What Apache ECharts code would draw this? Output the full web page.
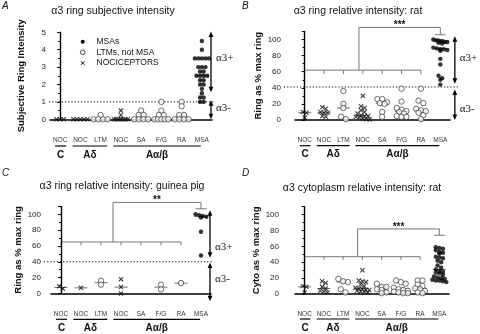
<!DOCTYPE html>
<html>
<head>
<meta charset="utf-8">
<script src="https://cdn.jsdelivr.net/npm/echarts@6/dist/echarts.min.js"></script>
<style>html,body{margin:0;background:#fff}#main{width:480px;height:334px}</style>
</head>
<body>
<div id="main"></div>
<script>
// categories along each x axis and what kind of afferent each one holds
var categories = ['NOC', 'NOC', 'LTM', 'NOC', 'SA', 'F/G', 'RA', 'MSA'];
var kinds = ['noc', 'noc', 'ltm', 'noc', 'ltm', 'ltm', 'ltm', 'msa'];
var seriesNames = { msa: 'MSAs', ltm: 'LTMs, not MSA', noc: 'NOCICEPTORS' };

// A: subjective ring intensity (one list per category)
var subjA = [
  [0, 0, 0],
  [0, 0, 0, 0, 0],
  [0.25, 0, 0, 0, 0],
  [0.5, 0.25, 0, 0, 0, 0, 0, 0, 0],
  [0.5, 0.25, 0.25, 0, 0, 0, 0],
  [1, 0.5, 0.25, 0.25, 0, 0, 0, 0, 0],
  [1, 0.75, 0.25, 0.25, 0, 0, 0, 0],
  [4.5, 4, 3.5, 3.5, 3.5, 3.5, 3.5, 3, 3, 3, 2.75, 2.75, 2.5, 2.5, 2.5, 2.5, 2.25, 2.25, 2, 2, 1.75, 1.5, 1.25, 1.25, 1, 1]
];
// B: ring relative intensity, rat
var ratB = [
  [10, 9, 3],
  [16, 14, 10, 9, 9, 5, 4],
  [36, 20, 15, 4, 1],
  [30, 17, 15, 12, 10, 8, 6, 5, 5, 4, 3, 2, 1, 1],
  [26, 26, 22, 21, 20, 10, 4],
  [39, 23, 15, 13, 11, 10, 8, 5, 4, 4],
  [39, 24, 21, 14, 12, 11, 9, 6, 1],
  [100, 99, 99, 98, 98, 97, 97, 96, 95, 90, 89, 88, 88, 87, 86, 76, 69, 55, 52, 50, 44]
];
// C: ring relative intensity, guinea pig
var gpC = [
  [9, 6],
  [7],
  [16, 11],
  [18, 8, 0],
  [],
  [11, 5],
  [13],
  [100, 99, 98, 97, 96, 78, 48]
];
// D: cytoplasm relative intensity, rat
var cytoD = [
  [10, 9, 2],
  [16, 14, 9, 7, 4, 3, 2],
  [19, 16, 15, 6, 2],
  [30, 17, 16, 15, 12, 10, 8, 7, 6, 5, 5, 4, 3, 3, 2],
  [13, 9, 9, 6, 5, 2, 1],
  [17, 15, 13, 8, 6, 5, 4, 3, 2, 1, 1],
  [17, 17, 12, 10, 7, 6, 4, 2, 1],
  [59, 58, 57, 55, 53, 52, 51, 47, 46, 45, 42, 40, 36, 33, 31, 29, 28, 27, 26, 24, 22, 21, 20, 19, 18, 17, 17, 16, 15]
];

var groups = [
  { name: 'C', from: -0.25, to: 0.3 },
  { name: 'Aδ', from: 0.62, to: 2.32 },
  { name: 'Aα/β', from: 2.62, to: 6.95 }
];

var FONT = '"Liberation Sans", Arial, sans-serif';
var xSym = 'path://M0,0L10,10M10,0L0,10';

var panels = [
  { letter: 'A', title: 'α3 ring subjective intensity', yName: 'Subjective Ring Intensity', data: subjA,
    max: 5, interval: 1, left: 50, top: 32.3, width: 162, height: 87, yOff: 1, xOff: 7, labelMargin: 10, nameGap: 23,
    tx: 113, ty: 13, lx: 2, ly: 1, gLine: 146, gText: 155,
    thr: 1, arrowX: 7.45, up: [5.05, 1.55], down: [1.1, 0], plusY: 3.5, minusY: 0.65 },
  { letter: 'B', title: 'α3 ring relative intensity: rat', yName: 'Ring as % max ring', data: ratB,
    max: 110, interval: 20, left: 295, top: 31.5, width: 155, height: 88.5, yOff: 11, xOff: 12.7, labelMargin: 4, nameGap: 21,
    tx: 358, ty: 13, lx: 242, ly: 1, gLine: 145.7, gText: 154,
    thr: 41, arrowX: 7.75, up: [104, 45], down: [38, 0], plusY: 77, minusY: 14,
    bracket: { low: 62, lowTick: 57, stem: 2.8, high: 115, cap: 106, stars: '***' } },
  { letter: 'C', title: 'α3 ring relative intensity: guinea pig', yName: 'Ring as % max ring', data: gpC,
    max: 110, interval: 20, left: 51, top: 206.4, width: 160, height: 87, yOff: 7, xOff: 6, labelMargin: 11, nameGap: 18,
    tx: 122, ty: 188, lx: 2, ly: 168, gLine: 319.3, gText: 328,
    thr: 40, arrowX: 7.45, up: [105, 45], down: [39, -10], plusY: 59, minusY: 18,
    bracket: { low: 65, lowTick: 61, stem: 2.6, high: 115, cap: 107, stars: '**' } },
  { letter: 'D', title: 'α3 cytoplasm relative intensity: rat', yName: 'Cyto as % max ring', data: cytoD,
    max: 110, interval: 20, left: 295, top: 206.7, width: 154, height: 87.3, yOff: 13, xOff: 12, labelMargin: 4.5, nameGap: 18,
    tx: 362, ty: 190, lx: 242, ly: 168, gLine: 319, gText: 328,
    bracket: { low: 47, lowTick: 43, stem: 2.75, high: 82, cap: 74, stars: '***' } }
];

var markStyle = {
  msa: { symbol: 'circle', symbolSize: 4.4, itemStyle: { color: '#000' }, gap: 3.6 },
  ltm: { symbol: 'circle', symbolSize: 5.4, itemStyle: { color: '#fff', borderColor: '#333', borderWidth: 0.9 }, gap: 4.8 },
  noc: { symbol: xSym, symbolSize: 4.2, itemStyle: { color: 'transparent', borderColor: '#111', borderWidth: 1.1 }, gap: 3.6 }
};

// spread equal-ish values sideways into centred rows, like a column scatter
function swarm(vals, cat, pxPerCat, pxPerUnit, gap) {
  var sorted = vals.slice().sort(function (a, b) { return b - a; });
  var out = [], row = [];
  function flush() {
    var g = row.length > 1 ? Math.min(gap, 14 / (row.length - 1)) : gap;
    row.forEach(function (v, k) {
      out.push([cat + (k - (row.length - 1) / 2) * g / pxPerCat, v]);
    });
    row = [];
  }
  sorted.forEach(function (v) {
    if (row.length && (row[0] - v) * pxPerUnit > gap * 0.75) flush();
    row.push(v);
  });
  flush();
  return out;
}

function median(vals) {
  var s = vals.slice().sort(function (a, b) { return a - b; });
  var m = Math.floor(s.length / 2);
  return s.length % 2 ? s[m] : (s[m - 1] + s[m]) / 2;
}

var grids = [], xAxes = [], yAxes = [], series = [], titles = [];

panels.forEach(function (p, i) {
  grids.push({ left: p.left, top: p.top, width: p.width, height: p.height });
  xAxes.push({
    type: 'category', gridIndex: i, data: categories, boundaryGap: true, offset: p.xOff,
    axisTick: { show: false },
    axisLine: { lineStyle: { color: '#000', width: 1.5 } },
    axisLabel: { fontSize: 6.5, color: '#333', fontFamily: FONT, margin: p.labelMargin, interval: 0 }
  });
  xAxes.push({ type: 'value', gridIndex: i, min: -0.5, max: 7.5, show: false });
  yAxes.push({
    type: 'value', gridIndex: i, min: 0, max: p.max, interval: p.interval, offset: p.yOff,
    name: p.yName, nameLocation: 'middle', nameGap: p.nameGap,
    nameTextStyle: { fontSize: 9.5, fontWeight: 'bold', color: '#111', fontFamily: FONT },
    axisLine: { show: true, lineStyle: { color: '#000', width: 1.4 } },
    axisTick: { show: true, length: 3, lineStyle: { color: '#000', width: 1 } },
    minorTick: { show: true, splitNumber: 2, length: 2, lineStyle: { color: '#000', width: 1 } },
    splitLine: { show: false },
    axisLabel: {
      fontSize: 8, color: '#222', fontFamily: FONT, margin: 3,
      formatter: function (v) { return v % p.interval === 0 ? String(v) : ''; }
    }
  });

  var pxPerCat = p.width / 8, pxPerUnit = p.height / p.max;
  ['msa', 'ltm', 'noc'].forEach(function (kind) {
    var pts = [];
    p.data.forEach(function (vals, c) {
      if (kinds[c] === kind && vals.length) pts = pts.concat(swarm(vals, c, pxPerCat, pxPerUnit, markStyle[kind].gap));
    });
    series.push({
      type: 'scatter', name: seriesNames[kind], xAxisIndex: i * 2 + 1, yAxisIndex: i, clip: false,
      symbol: markStyle[kind].symbol, symbolSize: markStyle[kind].symbolSize,
      itemStyle: markStyle[kind].itemStyle, data: pts, z: 3, silent: true
    });
  });
  var meds = [];
  p.data.forEach(function (vals, c) { if (vals.length) meds.push([c, median(vals)]); });
  series.push({
    type: 'scatter', name: 'median', xAxisIndex: i * 2 + 1, yAxisIndex: i, clip: false,
    symbol: 'rect', symbolSize: [13, 0.9], itemStyle: { color: '#333' }, data: meds, z: 2, silent: true
  });

  titles.push({ text: p.title, left: p.tx, top: p.ty - 7, textAlign: 'center', padding: 0,
    textStyle: { fontSize: 10.5, fontWeight: 'normal', color: '#111', fontFamily: FONT } });
  titles.push({ text: p.letter, left: p.lx, top: p.ly, padding: 0,
    textStyle: { fontSize: 10, fontStyle: 'italic', fontWeight: 'normal', color: '#111', fontFamily: FONT } });
});

var chart = echarts.init(document.getElementById('main'));
chart.setOption({
  animation: false,
  backgroundColor: '#fff',
  title: titles,
  grid: grids,
  xAxis: xAxes,
  yAxis: yAxes,
  series: series
});

// annotations placed through each panel's own scales
var els = [];
function px(i, x, y) { return chart.convertToPixel({ xAxisIndex: i * 2 + 1, yAxisIndex: i }, [x, y]); }
function seg(a, b, stroke, w, dash) {
  els.push({ type: 'line', silent: true, shape: { x1: a[0], y1: a[1], x2: b[0], y2: b[1] },
    style: { stroke: stroke, lineWidth: w, lineDash: dash || null } });
}
function txt(x, y, s, font, align) {
  els.push({ type: 'text', silent: true, x: x, y: y,
    style: { text: s, font: font, fill: '#111', align: align || 'center', verticalAlign: 'middle' } });
}
function arrow(i, x, y1, y2) {
  var a = px(i, x, y1), b = px(i, x, y2);
  seg([a[0], a[1] + 4], [b[0], b[1] - 4], '#000', 1.3);
  els.push({ type: 'polygon', silent: true, shape: { points: [[a[0], a[1]], [a[0] - 2.4, a[1] + 5.5], [a[0] + 2.4, a[1] + 5.5]] }, style: { fill: '#000' } });
  els.push({ type: 'polygon', silent: true, shape: { points: [[b[0], b[1]], [b[0] - 2.4, b[1] - 5.5], [b[0] + 2.4, b[1] - 5.5]] }, style: { fill: '#000' } });
}

// key for panel A
var key = [['msa', 41.7], ['ltm', 52.3], ['noc', 63]];
key.forEach(function (k) {
  var x = 82.7, y = k[1];
  if (k[0] === 'msa') els.push({ type: 'circle', silent: true, shape: { cx: x, cy: y, r: 2 }, style: { fill: '#000' } });
  if (k[0] === 'ltm') els.push({ type: 'circle', silent: true, shape: { cx: x, cy: y, r: 2.3 }, style: { fill: '#fff', stroke: '#333', lineWidth: 0.9 } });
  if (k[0] === 'noc') { seg([x - 1.8, y - 1.8], [x + 1.8, y + 1.8], '#111', 1); seg([x + 1.8, y - 1.8], [x - 1.8, y + 1.8], '#111', 1); }
  txt(96.5, y, seriesNames[k[0]], '8.5px ' + FONT, 'left');
});

panels.forEach(function (p, i) {
  groups.forEach(function (g) {
    var a = px(i, g.from, 0)[0], b = px(i, g.to, 0)[0];
    seg([a, p.gLine], [b, p.gLine], '#000', 1.2);
    txt((a + b) / 2, p.gText, g.name, 'bold 10px ' + FONT);
  });
  if (p.thr !== undefined) {
    var ax = px(i, p.arrowX, 0)[0];
    var yAx = px(i, -0.5, 0)[0] - p.yOff;
    var ty = px(i, 0, p.thr)[1];
    seg([yAx, ty], [ax + 3, ty], '#000', 1, [1.2, 2]);
    arrow(i, p.arrowX, p.up[0], p.up[1]);
    arrow(i, p.arrowX, p.down[0], p.down[1]);
    txt(ax + 5, px(i, 0, p.plusY)[1], 'α3+', '11px "Liberation Serif", serif', 'left');
    txt(ax + 5, px(i, 0, p.minusY)[1], 'α3-', '11px "Liberation Serif", serif', 'left');
  }
  if (p.bracket) {
    var b = p.bracket, col = '#777';
    seg(px(i, 0, b.low), px(i, 6, b.low), col, 1);
    for (var k = 0; k <= 6; k++) seg(px(i, k, b.low), px(i, k, b.lowTick), col, 1);
    var s1 = px(i, b.stem, b.low), s2 = px(i, b.stem, b.high), e = px(i, 7, b.high), c = px(i, 7, b.cap);
    seg(s1, s2, col, 1);
    seg(s2, e, col, 1);
    seg(e, c, col, 1);
    seg(px(i, 6.72, b.cap), px(i, 7.28, b.cap), col, 1);
    txt((s2[0] + e[0]) / 2, s2[1] - 2, b.stars, 'bold 10px ' + FONT);
  }
});
chart.setOption({ graphic: els });
</script>
</body>
</html>
